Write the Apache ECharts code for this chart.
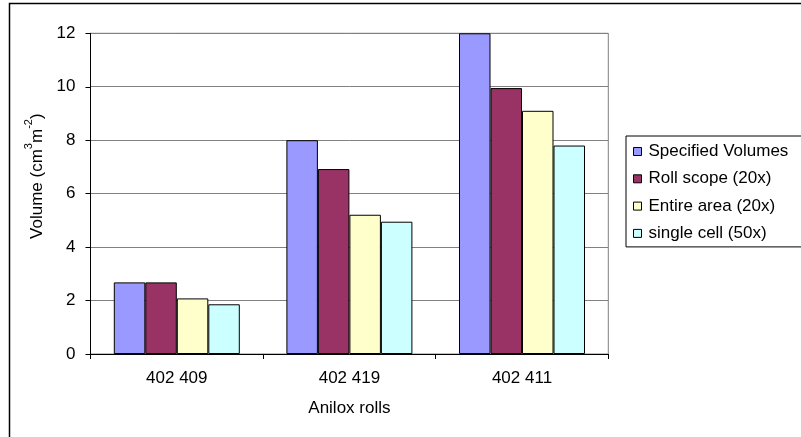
<!DOCTYPE html>
<html>
<head>
<meta charset="utf-8">
<script src="https://cdn.jsdelivr.net/npm/echarts@6/dist/echarts.min.js"></script>
<style>
html,body{margin:0;padding:0;background:#fff;}
#c{width:801px;height:437px;}
</style>
</head>
<body>
<div id="c"></div>
<script>
var categories = ['402 409', '402 419', '402 411'];
var seriesNames = ['Specified Volumes', 'Roll scope (20x)', 'Entire area (20x)', 'single cell (50x)'];
var specifiedVolumes = [2.68, 8.0, 12.0];
var rollScope = [2.68, 6.92, 9.95];
var entireArea = [2.08, 5.21, 9.1];
var singleCell = [1.86, 4.95, 7.8];
var yTicks = [0, 2, 4, 6, 8, 10, 12];
var colors = ['#9999FF', '#993366', '#FFFFCC', '#CCFFFF'];

var font = 'Liberation Sans, Arial, sans-serif';
var chart = echarts.init(document.getElementById('c'), null, {renderer: 'canvas'});
var values = [specifiedVolumes, rollScope, entireArea, singleCell];
var series = values.map(function (v, i) {
  return {
    name: seriesNames[i],
    type: 'bar',
    data: v,
    barWidth: 31.5,
    barGap: '0%',
    itemStyle: {color: colors[i], borderColor: '#000', borderWidth: 1},
    emphasis: {disabled: true}
  };
});

chart.setOption({
  animation: false,
  backgroundColor: '#fff',
  graphic: [{
    type: 'rect', silent: true, z: -10,
    shape: {x: 9.5, y: 3.5, width: 1000, height: 1000},
    style: {fill: 'none', stroke: '#000', lineWidth: 1.5}
  }],
  grid: {
    left: 90.5, right: 192.7, top: 33.3, bottom: 83,
    show: true, borderColor: '#808080', borderWidth: 1, backgroundColor: 'transparent'
  },
  legend: {
    orient: 'vertical',
    left: 626, top: 136,
    data: seriesNames,
    icon: 'rect',
    itemWidth: 8, itemHeight: 8,
    itemGap: 10.3,
    padding: [7, 30, 5, 7],
    borderColor: '#000', borderWidth: 1, backgroundColor: '#fff',
    itemStyle: {borderColor: '#000', borderWidth: 1},
    textStyle: {fontFamily: font, fontSize: 17, color: '#000', padding: [0, 0, 0, 2]},
    selectedMode: false
  },
  xAxis: {
    type: 'category',
    data: categories,
    name: 'Anilox rolls',
    nameLocation: 'middle',
    nameGap: 46,
    nameTextStyle: {fontFamily: font, fontSize: 17, color: '#000'},
    axisLine: {lineStyle: {color: '#000', width: 1}},
    axisTick: {show: true, length: 5, lineStyle: {color: '#000'}},
    axisLabel: {fontFamily: font, fontSize: 17, color: '#000', margin: 16},
    splitLine: {show: false}
  },
  yAxis: {
    type: 'value',
    min: yTicks[0], max: yTicks[yTicks.length - 1], interval: 2,
    name: '{a|Volume (cm}{s|3}{a|m}{s|-2}{a|)}',
    nameLocation: 'middle',
    nameGap: 42,
    nameTextStyle: {
      color: '#000',
      padding: [0, 0, 0, 35],
      rich: {
        a: {fontFamily: font, fontSize: 17, color: '#000', verticalAlign: 'bottom', lineHeight: 22},
        s: {fontFamily: font, fontSize: 11, color: '#000', verticalAlign: 'top', lineHeight: 22}
      }
    },
    axisLine: {show: true, lineStyle: {color: '#000', width: 1}},
    axisTick: {show: true, length: 5, lineStyle: {color: '#000'}},
    axisLabel: {fontFamily: font, fontSize: 17, color: '#000', margin: 15},
    splitLine: {show: true, lineStyle: {color: '#808080', width: 1}}
  },
  series: series
});
</script>
</body>
</html>
